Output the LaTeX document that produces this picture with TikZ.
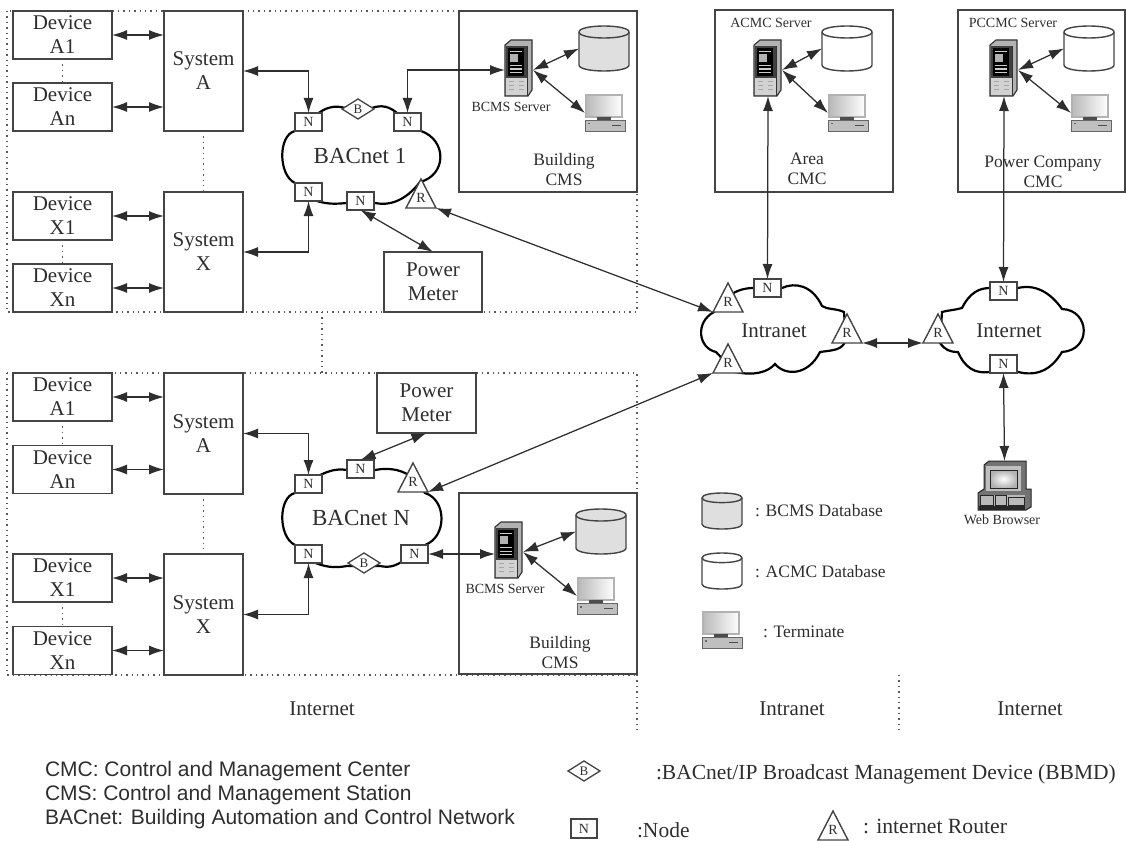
\documentclass[tikz,border=0pt]{standalone}
\usepackage{fontspec}
\setmainfont{Liberation Serif}
\newfontfamily\arialfont{Liberation Sans}
\usetikzlibrary{arrows.meta,calc}
\definecolor{ink}{HTML}{2E2E2E}
\definecolor{edge}{HTML}{444444}
\definecolor{dots}{HTML}{5A5A5A}
\newcommand{\fs}[1]{\fontsize{#1}{#1}\selectfont}
\newcommand{\fl}[2]{\fontsize{#1}{#2}\selectfont}
\tikzset{
  x=1pt,y=-1pt,
  every node/.style={text=ink,inner sep=0pt,outer sep=0pt},
  bigbox/.style={draw=edge,line width=1.6pt,fill=white,anchor=north west,align=center,font=\fl{21}{24}},
  zonebox/.style={draw=edge,line width=1.6pt,fill=white},
  dotline/.style={draw=dots,line width=1.2pt,dash pattern=on 1.4pt off 4pt},
  link/.style={draw=ink,line width=1.25pt,{Latex[length=15pt,width=10pt]}-{Latex[length=15pt,width=10pt]}},
  cloudline/.style={draw=black,line width=2.2pt,fill=white},
  nodebox/.style={draw=edge,line width=1.4pt,fill=white,minimum width=27,minimum height=18,font=\fs{14},anchor=north west},
  biglabel/.style={font=\fs{21}},
  midlabel/.style={font=\fl{17.5}{20},align=center},
  smalllabel/.style={font=\fs{14}},
  dbpic/.pic={
    \path[pic actions,draw=edge,line width=1.4pt] (0,6) -- (0,39) .. controls (0,47) and (50,47) .. (50,39) -- (50,6) .. controls (50,-2) and (0,-2) .. (0,6) -- cycle;
    \draw[edge,line width=1.4pt] (0,6) .. controls (0,14) and (50,14) .. (50,6);
    \node[anchor=north west,minimum width=50,minimum height=45] (-box) at (0,0) {};
  },
  srvpic/.pic={
    \fill[gray!60] (0,5) -- (6,0) -- (27,0) -- (27,50) -- (23,56) -- (0,56) -- cycle;
    \draw[black!80,line width=1.1pt] (0,5) -- (6,0) -- (27,0) -- (27,50) -- (23,56) -- (0,56) -- cycle;
    \fill[black!75] (1,6) rectangle (22,38);
    \fill[gray!35] (1,38) rectangle (22,55);
    \fill[black] (3,8) rectangle (19,36);
    \foreach \yy in {11,25,28.5,32} {\fill[white!80!black] (5,\yy) rectangle (17,\yy+1.4);}
    \fill[gray!60] (5,14) rectangle (13,22);
    \foreach \yy in {41,45,49} {\fill[gray!70] (4,\yy) rectangle (9,\yy+1); \fill[gray!70] (14,\yy) rectangle (19,\yy+1);}
    \draw[black!80,line width=.7pt] (22,6) -- (22,56);
    \node[anchor=north west,minimum width=28,minimum height=52] (-box) at (0,4) {};
  },
  termpic/.pic={
    \draw[gray!60!black,line width=.8pt,left color=gray!55,right color=white] (1,0) rectangle (37,22);
    \draw[gray!60,line width=2pt] (1,0) rectangle (37,22);
    \fill[black!70] (12,22) rectangle (26,25);
    \fill[gray!50] (0,25.5) rectangle (40,36);
    \draw[gray!80!black,line width=.6pt] (0,25.5) rectangle (40,36);
    \fill[black!70] (27,30) rectangle (36,31.2);
    \fill[black!60] (3,28) rectangle (5,29.5);
    \node[anchor=north west,minimum width=40,minimum height=36] (-box) at (0,0) {};
  },
  webpic/.pic={
    \fill[black!55] (6,4) -- (11,0) -- (48,0) -- (48,28) -- (53,28) -- (53,46) -- (48,49) -- (0,49) -- (0,32) -- (6,28) -- cycle;
    \draw[black!85,line width=1pt] (6,4) -- (11,0) -- (48,0) -- (48,28) -- (53,28) -- (53,46) -- (48,49) -- (0,49) -- (0,32) -- (6,28) -- cycle;
    \fill[gray!50] (8,5) rectangle (43,30);
    \draw[black!85,inner color=white,outer color=gray!60,line width=1pt] (12,9) rectangle (39,27);
    \fill[gray!55] (2,34) rectangle (47,47);
    \draw[black!85,line width=.7pt] (2,34) rectangle (15,44) (17,34) rectangle (28,44) (30,36) rectangle (46,44);
    \fill[black!85] (1,45) rectangle (47,49);
    \node[anchor=north west,minimum width=53,minimum height=48] (-box) at (0,0) {};
  },
  routerpic/.pic={
    \draw[edge,line width=1.4pt,fill=white] (0,0) -- (15,29) -- (-15,29) -- cycle;
    \node[font=\fs{14}] (-lab) at (0,19) {R};
    \node[anchor=north west,minimum width=30,minimum height=29] (-box) at (-15,0) {};
  },
  bbmdpic/.pic={
    \draw[edge,line width=1.3pt,fill=white] (-16,0) -- (0,-10) -- (16,0) -- (0,10) -- cycle;
    \node[font=\fs{13}] (-lab) at (0,0) {B};
  },
}
\begin{document}
\begin{tikzpicture}
\useasboundingbox (0,0) rectangle (1126,840);
% ---- dotted zones
\draw[dotline] (7,11) rectangle (637,312);
\draw[dotline] (7,373) rectangle (637,675);
\coordinate (gapa) at (322,312); \coordinate (gapb) at (322,373);
\draw[dotline] (gapa) -- (gapb);
\draw[dotline] (637,675) -- (637,734);
\draw[dotline] (899,675) -- (899,734);
% ---- management boxes
\draw[zonebox] (459,11) rectangle (637,192);
\draw[zonebox] (459,493) rectangle (637,674);
\draw[zonebox] (715,10) rectangle (893,192);
\draw[zonebox] (958,10) rectangle (1125,192);
% ---- clouds
\draw[cloudline] (295,131) .. controls (278,135) and (278,175) .. (295,183) -- (309,198)
  .. controls (325,205) and (335,204) .. (347,203) -- (375,203)
  .. controls (395,207) and (410,195) .. (420,182)
  .. controls (447,175) and (447,140) .. (421,131) -- (400,116)
  .. controls (390,105) and (380,105) .. (372,108) -- (345,108)
  .. controls (335,105) and (325,107) .. (315,116) -- cycle;
\draw[cloudline] (295,493) .. controls (278,497) and (278,537) .. (295,545) -- (309,560)
  .. controls (325,568) and (335,568) .. (347,566) -- (380,566)
  .. controls (390,568) and (395,566) .. (405,560) -- (425,545)
  .. controls (447,537) and (447,500) .. (425,493) -- (415,480)
  .. controls (405,470) and (390,467) .. (375,470) -- (347,470)
  .. controls (335,468) and (325,472) .. (315,478) -- cycle;
\draw[cloudline] (714,312) .. controls (695,322) and (698,348) .. (716,352) -- (735,372)
  .. controls (755,376) and (768,372) .. (775,364)
  .. controls (785,376) and (808,376) .. (820,352)
  .. controls (835,350) and (842,350) .. (846,340) -- (844,312)
  .. controls (835,308) and (828,310) .. (822,306)
  .. controls (812,285) and (795,282) .. (782,288) -- (754,288)
  .. controls (745,288) and (738,290) .. (730,295) -- cycle;
\draw[cloudline] (942,312) .. controls (950,310) and (955,310) .. (962,308)
  .. controls (970,292) and (980,288) .. (990,288) -- (1018,288)
  .. controls (1035,284) and (1050,292) .. (1062,309)
  .. controls (1090,310) and (1092,350) .. (1062,352)
  .. controls (1050,372) and (1035,376) .. (1018,372) -- (990,372)
  .. controls (975,374) and (965,368) .. (958,352)
  .. controls (950,352) and (945,350) .. (940,343) -- cycle;
\node[font=\fs{23}] (cloudone) at (360,156) {BACnet 1};
\node[font=\fs{23}] (cloudn) at (361,518) {BACnet N};
\node[biglabel] (cloudintra) at (774,331) {Intranet};
\node[biglabel] (cloudinter) at (1009,331) {Internet};
% ---- top group boxes
\node[bigbox,minimum width=99,minimum height=48] (da1) at (13,11) {Device\\A1};
\node[bigbox,minimum width=99,minimum height=48] (dan) at (13,83) {Device\\An};
\node[bigbox,minimum width=99,minimum height=48] (dx1) at (13,192) {Device\\X1};
\node[bigbox,minimum width=99,minimum height=48] (dxn) at (13,264) {Device\\Xn};
\node[bigbox,minimum width=79,minimum height=120] (sa) at (164,11) {System\\A};
\node[bigbox,minimum width=79,minimum height=120] (sx) at (164,192) {System\\X};
\node[bigbox,minimum width=98,minimum height=60] (pm) at (384,252) {Power\\Meter};
\draw[dotline] (da1) -- (dan);
\draw[dotline] (dx1) -- (dxn);
\draw[dotline] (sa) -- (sx);
\node[nodebox] (n1a) at (295,113) {N};
\node[nodebox] (n1b) at (394,113) {N};
\node[nodebox] (n1c) at (295,183) {N};
\node[nodebox] (n1d) at (347,192) {N};
\pic (b1) at (358,109) {bbmdpic};
\pic (r1) at (421,179) {routerpic};
% ---- lower group boxes
\node[bigbox,minimum width=99,minimum height=48] (db1) at (13,373) {Device\\A1};
\node[bigbox,minimum width=99,minimum height=48] (dbn) at (13,445.5) {Device\\An};
\node[bigbox,minimum width=99,minimum height=48] (dy1) at (13,554) {Device\\X1};
\node[bigbox,minimum width=99,minimum height=48] (dyn) at (13,626.5) {Device\\Xn};
\node[bigbox,minimum width=79,minimum height=121] (sb) at (164,373) {System\\A};
\node[bigbox,minimum width=79,minimum height=121] (sy) at (164,554) {System\\X};
\node[bigbox,minimum width=99,minimum height=60] (pn) at (377,373) {Power\\Meter};
\draw[dotline] (db1) -- (dbn);
\draw[dotline] (dy1) -- (dyn);
\draw[dotline] (sb) -- (sy);
\node[nodebox] (n2a) at (295,475) {N};
\node[nodebox] (n2b) at (347,460) {N};
\node[nodebox] (n2c) at (295,545) {N};
\node[nodebox] (n2d) at (401,545) {N};
\pic (b2) at (364,563) {bbmdpic};
\pic (r2) at (413,463) {routerpic};
% ---- intranet / internet nodes
\node[nodebox] (n3a) at (754,279) {N};
\node[nodebox] (n4a) at (990,282) {N};
\node[nodebox] (n4b) at (990,355) {N};
\pic (r3) at (728,283) {routerpic};
\pic (r4) at (728,344) {routerpic};
\pic (r5) at (847,314) {routerpic};
\pic (r6) at (938,314) {routerpic};
% ---- servers, databases, terminals
\pic (s1) at (505,40) {srvpic};
\pic[fill=gray!25] (d1) at (579,26) {dbpic};
\pic (t1) at (585,95) {termpic};
\node[smalllabel] (l1) at (511,107) {BCMS Server};
\pic (s2) at (495,522) {srvpic};
\pic[fill=gray!25] (d2) at (576,509) {dbpic};
\pic (t2) at (577,578) {termpic};
\node[smalllabel] (l2) at (505,589) {BCMS Server};
\pic (s3) at (754,40) {srvpic};
\pic[fill=white] (d3) at (822,26) {dbpic};
\pic (t3) at (828,95) {termpic};
\node[smalllabel] (l3) at (771,23) {ACMC Server};
\pic (s4) at (990,40) {srvpic};
\pic[fill=white] (d4) at (1064,26) {dbpic};
\pic (t4) at (1071,95) {termpic};
\node[smalllabel] (l4) at (1013,23) {PCCMC Server};
\pic (w) at (978,461) {webpic};
\node[smalllabel] (l5) at (1002,520) {Web Browser};
% ---- zone captions
\node[midlabel] (c1) at (564,170) {Building\\CMS};
\node[midlabel] (c2) at (560,653) {Building\\CMS};
\node[midlabel] (c3) at (807,169) {Area\\CMC};
\node[midlabel] (c4) at (1043,172) {Power Company\\CMC};
% ---- connectors
\foreach \d/\s in {da1/sa,dan/sa,dx1/sx,dxn/sx,db1/sb,dbn/sb,dy1/sy,dyn/sy}
  \draw[link] (\d.east) -- (\d.east -| \s.west);
\draw[link] (sa.east) -| (n1a.north);
\draw[link] (sx.east) -| (n1c.south);
\draw[link] (sb.east) -| (n2a.north);
\draw[link] (sy.east) -| (n2c.south);
\draw[link] (n1b.north) |- (s1-box.west);
\draw[link] (n1d.south) -- (pm.north);
\draw[link] (n2b.north) -- (pn.south);
\draw[link] (n2d.east) -- (n2d.east -| s2-box.west);
\draw[link] (r1-box.south east) -- (r3-box.south west);
\draw[link] (r2-box.south east) -- (r4-box.south west);
\draw[link] (r5-box.south east) -- (r6-box.south west);
\draw[link] (s3-box.south) -- (n3a.north);
\draw[link] (s4-box.south) -- (n4a.north);
\draw[link] (n4b.south) -- (w-box.north);
\foreach \k in {1,2,3,4} {
  \draw[link] (s\k-box.east) -- (d\k-box.west);
  \draw[link] (s\k-box.east) -- (t\k-box.west);
}
% ---- legend
\pic[fill=gray!25,scale=.8] (lg1) at (702,493) {dbpic};
\node[font=\fs{17.5},anchor=west] (lg1t) at (755,511) {: BCMS Database};
\pic[fill=white,scale=.8] (lg2) at (702,553) {dbpic};
\node[font=\fs{17.5},anchor=west] (lg2t) at (755,572) {: ACMC Database};
\pic (lg3) at (702,612) {termpic};
\node[font=\fs{17.5},anchor=west] (lg3t) at (763,632) {: Terminate};
\node[biglabel] (z1) at (322,709) {Internet};
\node[biglabel] (z2) at (792,709) {Intranet};
\node[biglabel] (z3) at (1030,709) {Internet};
\node[font=\arialfont\fs{21},anchor=west] (a1) at (45,771) {CMC: Control and Management Center};
\node[font=\arialfont\fs{21},anchor=west] (a2) at (45,795) {CMS: Control and Management Station};
\node[font=\arialfont\fs{21},anchor=west] (a3) at (45,819) {BACnet: Building Automation and Control Network};
\pic (lgb) at (584,771) {bbmdpic};
\node[font=\fs{21.5},anchor=west] (lgbt) at (656,774) {:BACnet/IP Broadcast Management Device (BBMD)};
\node[nodebox,minimum width=26,minimum height=19] (lgn) at (571,819) {N};
\node[font=\fs{21.5},anchor=west] (lgnt) at (637,830) {:Node};
\pic (lgr) at (833,811) {routerpic};
\node[font=\fs{21.7},anchor=west] (lgrt) at (863,826) {: internet Router};
\end{tikzpicture}
\end{document}
